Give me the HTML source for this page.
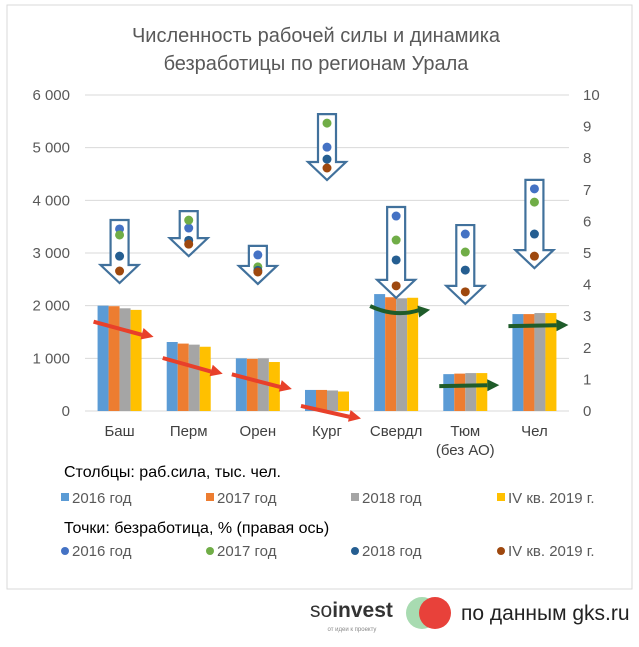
<!DOCTYPE html>
<html><head><meta charset="utf-8"><style>
body{margin:0;background:#fff;width:639px;height:642px;overflow:hidden;font-family:"Liberation Sans","DejaVu Sans",sans-serif}
svg text{font-family:"Liberation Sans","DejaVu Sans",sans-serif}
</style></head><body>
<svg width="639" height="642" viewBox="0 0 639 642">
<rect x="7" y="5" width="625" height="584" fill="#fff" stroke="#d9d9d9"/>
<text x="316" y="42" text-anchor="middle" font-size="20" fill="#595959">Численность рабочей силы и динамика</text>
<text x="316" y="70" text-anchor="middle" font-size="20" fill="#595959">безработицы по регионам Урала</text>
<g id="grid"></g><g id="bars"></g><g id="trends"></g><g id="arrows"></g><g id="dots"></g><g id="labels"></g>
<text x="64" y="477" font-size="16" fill="#000">Столбцы: раб.сила, тыс. чел.</text>
<text x="64" y="533" font-size="16" fill="#000">Точки: безработица, % (правая ось)</text>
<g id="legend"></g>
<g>
<text x="310" y="617" font-size="21" fill="#333">so<tspan font-weight="bold">invest</tspan></text>
<text x="352" y="631" font-size="6" fill="#888" text-anchor="middle">от идеи к проекту</text>
<circle cx="422" cy="613" r="16" fill="#a8dbb1"/>
<circle cx="435" cy="613" r="16" fill="#e8413a"/>
<text x="461" y="620" font-size="21" fill="#222">по данным gks.ru</text>
</g>
</svg>
<script>
const categories=["Баш","Перм","Орен","Кург","Свердл","Тюм","Чел"];
const labor2016=[2000,1310,1000,400,2220,700,1840];
const labor2017=[1990,1280,990,400,2160,710,1840];
const labor2018=[1950,1260,1000,390,2140,720,1860];
const labor2019=[1920,1220,930,370,2150,720,1860];
const unemp2016=[5.76,5.79,4.94,8.35,6.17,5.6,7.03];
const unemp2017=[5.57,6.04,4.56,9.11,5.41,5.03,6.61];
const unemp2018=[4.9,5.4,4.45,7.97,4.78,4.46,5.6];
const unemp2019=[4.43,5.28,4.4,7.69,3.96,3.77,4.9];
const leftTicks=[0,1000,2000,3000,4000,5000,6000];
const rightTicks=[0,1,2,3,4,5,6,7,8,9,10];
const trendUp=[false,false,false,false,true,true,true];

const NS="http://www.w3.org/2000/svg";
const X0=85,X1=569,Y0=411,Y1=95;
const band=(X1-X0)/categories.length;
const xc=i=>X0+band*(i+0.5);
const yL=v=>Y0-(Y0-Y1)*v/6000;
const yR=v=>Y0-(Y0-Y1)*v/10;
function mk(tag,attrs,parent){const e=document.createElementNS(NS,tag);for(const k in attrs)e.setAttribute(k,attrs[k]);document.getElementById(parent).appendChild(e);return e;}
const fmt=v=>v>=1000?Math.floor(v/1000)+" "+String(v%1000).padStart(3,"0"):String(v);
leftTicks.forEach(t=>{
  const l=mk("line",{x1:X0,x2:X1,y1:yL(t),y2:yL(t),stroke:"#d9d9d9","stroke-width":1},"grid");
  
  
  const tx=mk("text",{x:70,y:yL(t)+5,"text-anchor":"end","font-size":15,fill:"#595959"},"labels");
  tx.textContent=fmt(t);
  
  
});
rightTicks.forEach(t=>{
  const tx=mk("text",{x:583,y:yR(t)+5,"font-size":15,fill:"#595959"},"labels");
  tx.textContent=t;
  
  
});
const series=[labor2016,labor2017,labor2018,labor2019];
const barCols=["#5b9bd5","#ed7d31","#a5a5a5","#ffc000"];
const BW=11;
categories.forEach((c,i)=>{
  series.forEach((s,k)=>{
    const x=xc(i)-2*BW+k*BW;
    const r=mk("rect",{x:x,y:yL(s[i]),width:BW,height:Y0-yL(s[i]),fill:barCols[k]},"bars");
    
    
  });
  const t=mk("text",{x:xc(i),y:436,"text-anchor":"middle","font-size":15,fill:"#404040"},"labels");
  t.textContent=c;
  
  
  if(c==="Тюм"){const t2=mk("text",{x:xc(i),y:455,"text-anchor":"middle","font-size":15,fill:"#404040"},"labels");t2.textContent="(без АО)";
    
    }
  const col=trendUp[i]?"#1f5c2a":"#e8402a";
  const xs=xc(i)-26,xe=xc(i)+30;
  let ys,ye;
  if(trendUp[i]){ys=yL(labor2016[i])+12;ye=yL(labor2019[i])+12;}else{ys=yL(labor2016[i])+16;ye=yL(labor2019[i])+27;}
  const ang=Math.atan2(ye-ys,xe-xs);
  const p=mk("path",{d:c==="Свердл"?`M${xs},${ys} Q${xc(i)},${ys+12} ${xe-6},${ye}`:`M${xs},${ys} L${xe-8*Math.cos(ang)},${ye-8*Math.sin(ang)}`,stroke:col,"stroke-width":4,fill:"none"},"trends");
  
  
  const a2=c==="Свердл"?-0.15:ang;
  const hx=xe+4,hy=ye;
  const h=mk("polygon",{points:`${hx},${hy} ${hx-12*Math.cos(a2)+6*Math.sin(a2)},${hy-12*Math.sin(a2)-6*Math.cos(a2)} ${hx-12*Math.cos(a2)-6*Math.sin(a2)},${hy-12*Math.sin(a2)+6*Math.cos(a2)}`,fill:col},"trends");
  
  
  const vals=[unemp2016[i],unemp2017[i],unemp2018[i],unemp2019[i]];
  const top=yR(Math.max(...vals))-9, tip=yR(Math.min(...vals))+12;
  const cx=xc(i), sw=9, hw=19, hh=18;
  const ar=mk("polygon",{points:`${cx-sw},${top} ${cx+sw},${top} ${cx+sw},${tip-hh} ${cx+hw},${tip-hh} ${cx},${tip} ${cx-hw},${tip-hh} ${cx-sw},${tip-hh}`,fill:"#fff",stroke:"#41719c","stroke-width":2.2},"arrows");
  
  
});
const dotSeries=[unemp2016,unemp2017,unemp2018,unemp2019];
const dotCols=["#4472c4","#70ad47","#255e91","#9e480e"];
dotSeries.forEach((s,k)=>s.forEach((v,i)=>{
  const d=mk("circle",{cx:xc(i),cy:yR(v),r:4.5,fill:dotCols[k]},"dots");
  
  
}));
const legNames=["2016 год","2017 год","2018 год","IV кв. 2019 г."];
const legX=[61,206,351,497];
legNames.forEach((n,k)=>{
  const r=mk("rect",{x:legX[k],y:493,width:8,height:8,fill:barCols[k]},"legend");
  
  
  const t=mk("text",{x:legX[k]+11,y:503,"font-size":15,fill:"#595959"},"legend");t.textContent=n;
  
  
  const c=mk("circle",{cx:legX[k]+4,cy:551,r:4,fill:dotCols[k]},"legend");
  
  
  const t2=mk("text",{x:legX[k]+11,y:556,"font-size":15,fill:"#595959"},"legend");t2.textContent=n;
  
  
});
</script>
</body></html>
